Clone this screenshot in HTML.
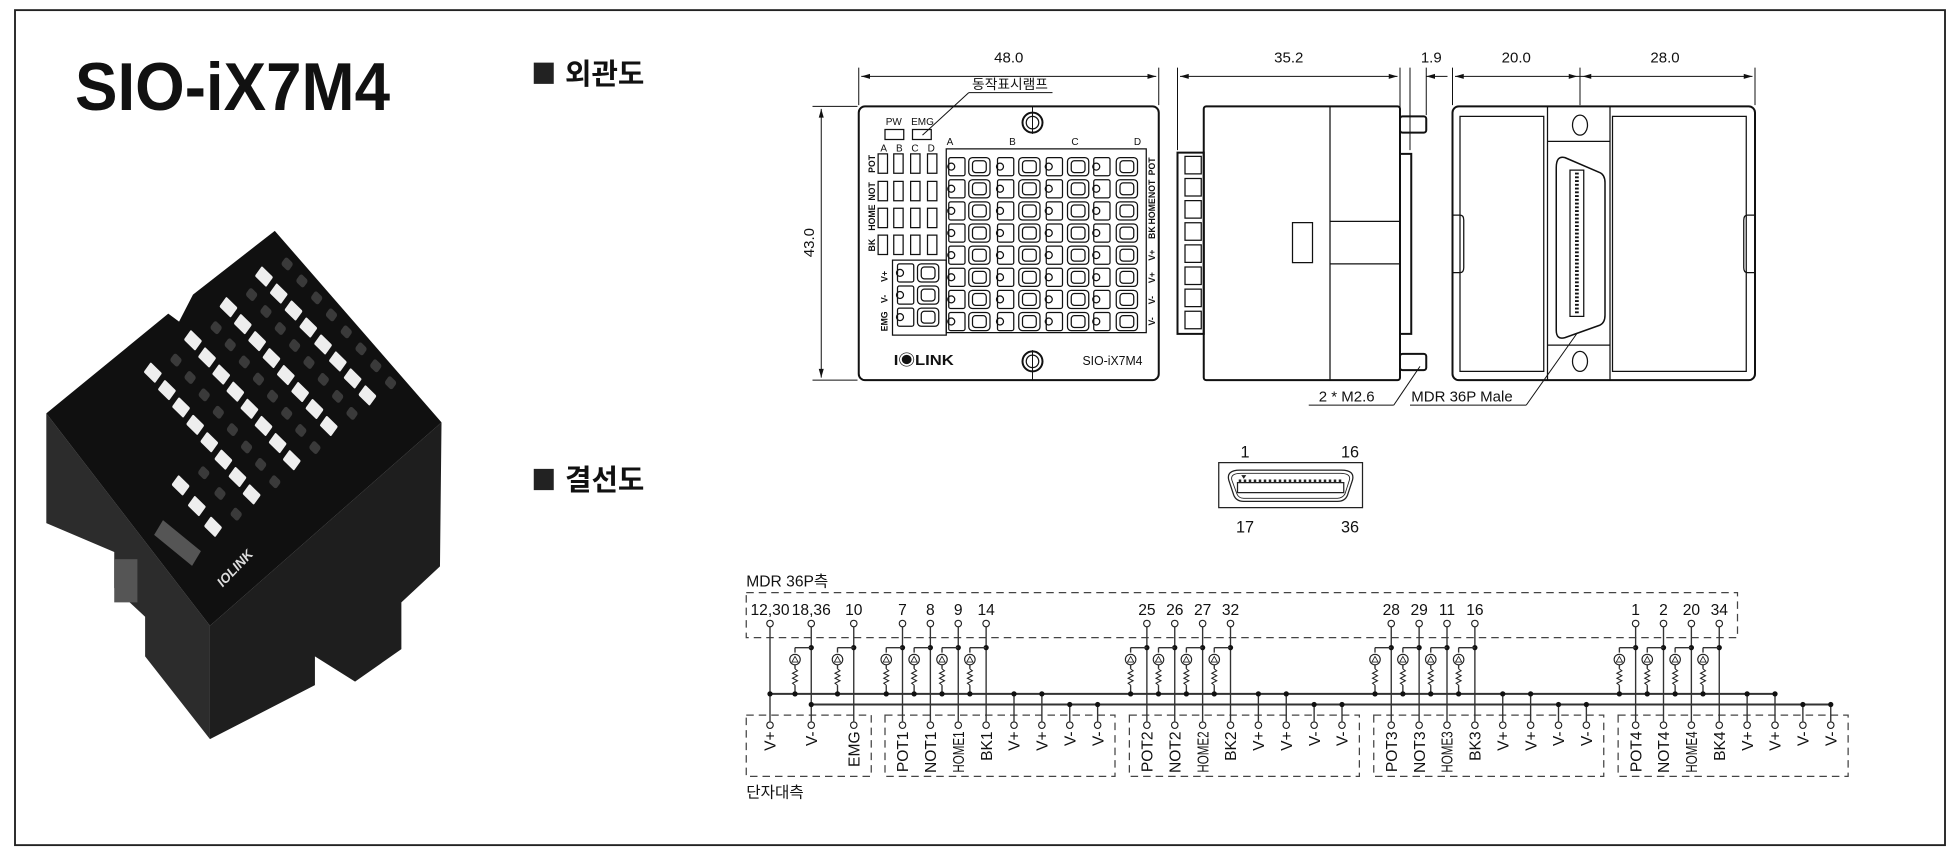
<!DOCTYPE html>
<html><head><meta charset="utf-8">
<style>
html,body{margin:0;padding:0;background:#fff;}
svg{display:block;}
text{font-family:"Liberation Sans","Noto Sans CJK KR",sans-serif;fill:#111;}
.n{font-family:"Liberation Sans Narrow","Liberation Sans","Noto Sans CJK KR",sans-serif;}
</style></head>
<body>
<svg id="s" width="1960" height="854" viewBox="0 0 1568 683" xmlns="http://www.w3.org/2000/svg">
<rect x="12" y="8" width="1544" height="668" fill="none" stroke="#222" stroke-width="1.5"/>
<text x="60" y="88" font-size="54" font-weight="bold" textLength="252" lengthAdjust="spacingAndGlyphs">SIO-iX7M4</text>
<rect x="427" y="50" width="16" height="17" fill="#222"/>
<text x="452" y="67" font-size="23" font-weight="bold">외관도</text>
<rect x="427" y="375" width="16" height="17" fill="#222"/>
<text x="452" y="392" font-size="23" font-weight="bold">결선도</text>

<!-- photo -->
<g transform="translate(0,165) scale(0.247,0.288)">
 <polygon points="150,575 680,1165 680,1480 470,1250 470,1140 370,1060 370,960 150,880" fill="#2c2c2c"/>
 <polygon points="680,1165 1430,600 1425,1000 1300,1100 1300,1230 1150,1320 1020,1250 1020,1330 680,1480" fill="#1e1e1e"/>
 <polygon points="150,575 545,298 580,320 625,245 890,68 1430,600 680,1165" fill="#101010"/>
 <rect x="370" y="980" width="75" height="120" fill="#555"/>
 <g id="pads"></g>
 <text x="0" y="0" font-size="40" fill="#ddd" style="fill:#ddd" transform="translate(720,1060) rotate(-42)" font-weight="bold">IOLINK</text>
</g>

<!-- front view -->
<g fill="none" stroke="#111" stroke-width="1.6">
 <rect x="687" y="85" width="240" height="219" rx="5"/>
 <line x1="687" y1="54" x2="687" y2="84" stroke-width="0.8"/>
 <line x1="927" y1="54" x2="927" y2="84" stroke-width="0.8"/>
 <line x1="689" y1="61" x2="925" y2="61" stroke-width="0.8"/>
 <line x1="650" y1="85" x2="686" y2="85" stroke-width="0.8"/>
 <line x1="650" y1="304" x2="686" y2="304" stroke-width="0.8"/>
 <line x1="657" y1="87" x2="657" y2="302" stroke-width="0.8"/>
 <rect x="708" y="103.5" width="15" height="8" stroke-width="1"/>
 <rect x="730" y="103.5" width="15" height="8" stroke-width="1"/>
 <polyline points="775,74 842,74" stroke-width="0.8"/>
 <polyline points="775,74 738,108" stroke-width="0.8"/>
 <rect x="757" y="119" width="160" height="147" stroke-width="1"/>
 <rect x="714" y="208" width="43" height="60" stroke-width="1"/>
 <circle cx="826" cy="98" r="8"/><circle cx="826" cy="98" r="5" stroke-width="1"/>
 <circle cx="826" cy="289" r="8"/><circle cx="826" cy="289" r="5" stroke-width="1"/>
 <line x1="826" y1="85" x2="826" y2="107" stroke-width="0.8"/>
 <line x1="826" y1="280" x2="826" y2="304" stroke-width="0.8"/>
 <g id="fgrid" stroke-width="1"></g>
</g>
<text x="807" y="50" font-size="12" text-anchor="middle" class="n">48.0</text>
<text x="0" y="0" font-size="12" text-anchor="middle" class="n" transform="translate(651,194) rotate(-90)">43.0</text>
<text x="808" y="71" font-size="11" text-anchor="middle">동작표시램프</text>
<text x="715" y="100" font-size="8" text-anchor="middle" class="n">PW</text>
<text x="738" y="100" font-size="8" text-anchor="middle" class="n">EMG</text>
<g font-size="8" text-anchor="middle" class="n">
<text x="707" y="121">A</text><text x="719.5" y="121">B</text><text x="732" y="121">C</text><text x="745" y="121">D</text>
<text x="760" y="116">A</text><text x="810" y="116">B</text><text x="860" y="116">C</text><text x="910" y="116">D</text>
</g>
<g font-size="7" text-anchor="middle" class="n" font-weight="bold">
<text transform="translate(700,131) rotate(-90)">POT</text>
<text transform="translate(700,153) rotate(-90)">NOT</text>
<text transform="translate(700,174) rotate(-90)">HOME</text>
<text transform="translate(700,196) rotate(-90)">BK</text>
<text transform="translate(710,221) rotate(-90)">V+</text>
<text transform="translate(710,239) rotate(-90)">V-</text>
<text transform="translate(710,257) rotate(-90)">EMG</text>
<text transform="translate(924,133) rotate(-90)">POT</text>
<text transform="translate(924,151) rotate(-90)">NOT</text>
<text transform="translate(924,169) rotate(-90)">HOME</text>
<text transform="translate(924,186) rotate(-90)">BK</text>
<text transform="translate(924,204) rotate(-90)">V+</text>
<text transform="translate(924,222) rotate(-90)">V+</text>
<text transform="translate(924,240) rotate(-90)">V-</text>
<text transform="translate(924,257) rotate(-90)">V-</text>
</g>
<text x="715" y="292" font-size="12" font-weight="bold" textLength="48" lengthAdjust="spacingAndGlyphs">I◉LINK</text>
<text x="866" y="292" font-size="10" class="n" textLength="48" lengthAdjust="spacingAndGlyphs">SIO-iX7M4</text>

<!-- side view -->
<g fill="none" stroke="#111" stroke-width="1.6">
 <rect x="963" y="85" width="157" height="219" rx="2"/>
 <line x1="1064" y1="85" x2="1064" y2="304" stroke-width="1"/>
 <line x1="1064" y1="177" x2="1120" y2="177" stroke-width="1"/>
 <line x1="1064" y1="211" x2="1120" y2="211" stroke-width="1"/>
 <rect x="1034" y="178" width="16" height="32" stroke-width="1"/>
 <rect x="942" y="122" width="21" height="145"/>
 <rect x="1120" y="123" width="9" height="144"/>
 <rect x="1120" y="93" width="21" height="13" rx="2"/>
 <rect x="1120" y="283" width="21" height="13" rx="2"/>
 <g id="sidet" stroke-width="1"></g>
 <!-- back view -->
 <rect x="1162" y="85" width="242" height="219" rx="5"/>
 <rect x="1168" y="93" width="67" height="204" stroke-width="1"/>
 <rect x="1290" y="93" width="107" height="204" stroke-width="1"/>
 <line x1="1238" y1="85" x2="1238" y2="304" stroke-width="1"/>
 <line x1="1288" y1="85" x2="1288" y2="304" stroke-width="1"/>
 <line x1="1238" y1="113" x2="1288" y2="113" stroke-width="1"/>
 <line x1="1238" y1="276" x2="1288" y2="276" stroke-width="1"/>
 <ellipse cx="1264" cy="100" rx="6" ry="8" stroke-width="1"/>
 <ellipse cx="1264" cy="289" rx="6" ry="8" stroke-width="1"/>
 <path d="M1252,126 L1280,138 Q1284,140 1284,146 L1284,252 Q1284,258 1280,260 L1252,270 Q1245,272 1245,264 L1245,134 Q1245,124 1252,126 Z" stroke-width="1.2"/>
 <rect x="1256" y="136" width="11" height="117" stroke-width="1"/>
 <line x1="1261.5" y1="138" x2="1261.5" y2="251" stroke-width="3" stroke-dasharray="1.5,1.5"/>
 <path d="M1162,172 h6 q3,0 3,4 v38 q0,4 -3,4 h-6" stroke-width="1"/>
 <path d="M1404,172 h-6 q-3,0 -3,4 v38 q0,4 3,4 h6" stroke-width="1"/>
 <!-- dims -->
 <g stroke-width="0.8">
 <line x1="942" y1="54" x2="942" y2="120"/><line x1="1120" y1="54" x2="1120" y2="90"/>
 <line x1="944" y1="61" x2="1118" y2="61"/>
 <line x1="1128" y1="54" x2="1128" y2="120"/><line x1="1141" y1="54" x2="1141" y2="92"/>
 <line x1="1141" y1="61" x2="1158" y2="61"/>
 <line x1="1162" y1="54" x2="1162" y2="84"/><line x1="1264" y1="54" x2="1264" y2="84"/><line x1="1404" y1="54" x2="1404" y2="84"/>
 <line x1="1164" y1="61" x2="1402" y2="61"/>
 <line x1="1047" y1="324" x2="1115" y2="324"/><line x1="1115" y1="324" x2="1136" y2="293"/>
 <line x1="1128" y1="324" x2="1221" y2="324"/><line x1="1221" y1="324" x2="1262" y2="266"/>
 </g>
</g>
<g fill="#111" id="arrows"></g>
<g font-size="12" text-anchor="middle" class="n">
<text x="1031" y="50">35.2</text><text x="1145" y="50">1.9</text><text x="1213" y="50">20.0</text><text x="1332" y="50">28.0</text>
</g>
<text x="1055" y="321" font-size="12" class="n">2 * M2.6</text>
<text x="1129" y="321" font-size="12" class="n">MDR 36P Male</text>

<!-- small connector -->
<g fill="none" stroke="#222" stroke-width="1">
 <rect x="975" y="370" width="115" height="36"/>
 <path d="M992,376 H1073 Q1084,376 1082,384 L1078,396 Q1076,401 1070,401 H995 Q989,401 987,396 L983,384 Q981,376 992,376 Z"/>
 <path d="M993,378.5 H1072 Q1081,378.5 1079.5,384 L1076,395 Q1074,398.5 1070,398.5 H995 Q991,398.5 989.5,395 L985.5,384 Q984,378.5 993,378.5 Z" stroke-width="0.7"/>
 <rect x="990" y="386" width="85" height="8"/>
 <line x1="991" y1="384.5" x2="1074" y2="384.5" stroke-dasharray="2,2" stroke-width="2"/>
</g>
<polygon points="993,380 997,380 995,383" fill="#222"/>
<g font-size="13" text-anchor="middle" class="n">
<text x="996" y="366">1</text><text x="1080" y="366">16</text><text x="996" y="426">17</text><text x="1080" y="426">36</text>
</g>

<!-- wiring -->
<text x="597" y="469" font-size="12.5" class="n">MDR 36P측</text>
<text x="597" y="638" font-size="12.5" class="n">단자대측</text>
<g fill="none" stroke="#444" stroke-width="1" stroke-dasharray="6,4">
 <rect x="597" y="474" width="793" height="36"/>
 <rect x="597" y="572" width="100" height="49"/>
 <rect x="708" y="572" width="184" height="49"/>
 <rect x="903.5" y="572" width="184" height="49"/>
 <rect x="1099" y="572" width="184" height="49"/>
 <rect x="1294.5" y="572" width="184" height="49"/>
</g>
<g id="wire"></g>
<g font-size="12.5" text-anchor="middle" class="n">
<text x="616" y="492">12,30</text><text x="649" y="492">18,36</text><text x="683" y="492">10</text>
<text x="722" y="492">7</text><text x="744.3" y="492">8</text><text x="766.6" y="492">9</text><text x="788.9" y="492">14</text>
<text x="917.5" y="492">25</text><text x="939.8" y="492">26</text><text x="962.1" y="492">27</text><text x="984.4" y="492">32</text>
<text x="1113" y="492">28</text><text x="1135.3" y="492">29</text><text x="1157.6" y="492">11</text><text x="1179.9" y="492">16</text>
<text x="1308.5" y="492">1</text><text x="1330.8" y="492">2</text><text x="1353.1" y="492">20</text><text x="1375.4" y="492">34</text>
</g>
<g font-size="12.5" text-anchor="end" class="n">
<text transform="translate(620.5,585) rotate(-90)">V+</text>
<text transform="translate(653.5,585) rotate(-90)">V-</text>
<text transform="translate(687.5,585) rotate(-90)">EMG</text>
<text transform="translate(726.5,585) rotate(-90)">POT1</text>
<text transform="translate(748.8,585) rotate(-90)">NOT1</text>
<text transform="translate(771.1,585) rotate(-90)" textLength="33" lengthAdjust="spacingAndGlyphs">HOME1</text>
<text transform="translate(793.4,585) rotate(-90)">BK1</text>
<text transform="translate(815.7,585) rotate(-90)">V+</text>
<text transform="translate(838,585) rotate(-90)">V+</text>
<text transform="translate(860.3,585) rotate(-90)">V-</text>
<text transform="translate(882.6,585) rotate(-90)">V-</text>
<text transform="translate(922,585) rotate(-90)">POT2</text>
<text transform="translate(944.3,585) rotate(-90)">NOT2</text>
<text transform="translate(966.6,585) rotate(-90)" textLength="33" lengthAdjust="spacingAndGlyphs">HOME2</text>
<text transform="translate(988.9,585) rotate(-90)">BK2</text>
<text transform="translate(1011.2,585) rotate(-90)">V+</text>
<text transform="translate(1033.5,585) rotate(-90)">V+</text>
<text transform="translate(1055.8,585) rotate(-90)">V-</text>
<text transform="translate(1078.1,585) rotate(-90)">V-</text>
<text transform="translate(1117.5,585) rotate(-90)">POT3</text>
<text transform="translate(1139.8,585) rotate(-90)">NOT3</text>
<text transform="translate(1162.1,585) rotate(-90)" textLength="33" lengthAdjust="spacingAndGlyphs">HOME3</text>
<text transform="translate(1184.4,585) rotate(-90)">BK3</text>
<text transform="translate(1206.7,585) rotate(-90)">V+</text>
<text transform="translate(1229,585) rotate(-90)">V+</text>
<text transform="translate(1251.3,585) rotate(-90)">V-</text>
<text transform="translate(1273.6,585) rotate(-90)">V-</text>
<text transform="translate(1313,585) rotate(-90)">POT4</text>
<text transform="translate(1335.3,585) rotate(-90)">NOT4</text>
<text transform="translate(1357.6,585) rotate(-90)" textLength="33" lengthAdjust="spacingAndGlyphs">HOME4</text>
<text transform="translate(1379.9,585) rotate(-90)">BK4</text>
<text transform="translate(1402.2,585) rotate(-90)">V+</text>
<text transform="translate(1424.5,585) rotate(-90)">V+</text>
<text transform="translate(1446.8,585) rotate(-90)">V-</text>
<text transform="translate(1469.1,585) rotate(-90)">V-</text>
</g>
</svg>
<script>
var NS="http://www.w3.org/2000/svg";
function el(p,t,a){var e=document.createElementNS(NS,t);for(var k in a)e.setAttribute(k,a[k]);p.appendChild(e);return e;}
var fg=document.getElementById('fgrid');
[702.5,715,728.5,742].forEach(function(x){[123,145,166.5,188].forEach(function(y){el(fg,'rect',{x:x,y:y,width:7.5,height:15.5});});});
var cols=[[759,775],[798,815],[837,854],[875,893]];
for(var i=0;i<8;i++){var y=126+17.7*i;cols.forEach(function(c){
 el(fg,'rect',{x:c[0],y:y,width:13,height:14.5,rx:1.5});el(fg,'circle',{cx:c[0]+2,cy:y+7.2,r:2.8});
 el(fg,'rect',{x:c[1],y:y,width:17,height:14.5,rx:3});el(fg,'rect',{x:c[1]+3,y:y+2.5,width:11,height:9.5,rx:2.5});});}
for(var i=0;i<3;i++){var y=211+17.7*i;el(fg,'rect',{x:718,y:y,width:13,height:14.5,rx:1.5});el(fg,'circle',{cx:720,cy:y+7.2,r:2.8});
 el(fg,'rect',{x:734,y:y,width:17,height:14.5,rx:3});el(fg,'rect',{x:737,y:y+2.5,width:11,height:9.5,rx:2.5});}
var st=document.getElementById('sidet');
for(var i=0;i<8;i++){el(st,'rect',{x:948,y:125+17.7*i,width:13,height:14});}
var ar=document.getElementById('arrows');
function arr(x,y,d){el(ar,'polygon',{points:x+','+y+' '+(x+7*d)+','+(y-2)+' '+(x+7*d)+','+(y+2)});}
arr(689,61,1);arr(925,61,-1);arr(944,61,1);arr(1118,61,-1);arr(1141,61,1);arr(1164,61,1);arr(1262,61,-1);arr(1266,61,1);arr(1402,61,-1);
el(ar,'polygon',{points:'657,87 655,94 659,94'});el(ar,'polygon',{points:'657,302 655,295 659,295'});
var pd=document.getElementById('pads');
function row(x1,y1,x2,y2,n){for(var i=0;i<n;i++){var x=x1+(x2-x1)*i/(n-1),y=y1+(y2-y1)*i/(n-1);
 el(pd,'rect',{x:-24,y:-18,width:48,height:36,rx:4,fill:'#eeeeee',transform:'translate('+x+','+y+') rotate(40)'});
 el(pd,'rect',{x:-16,y:-14,width:32,height:28,rx:8,fill:'#3a3a3a',transform:'translate('+(x+75)+','+(y-35)+') rotate(40)'});}}
row(495,462,815,800,8);row(625,372,945,705,8);row(740,280,1065,610,8);row(855,195,1190,525,8);row(585,775,690,890,3);
el(pd,'rect',{x:500,y:910,width:150,height:50,fill:'#555',transform:'rotate(35 575 935)'});
var w=document.getElementById('wire');
function L(x1,y1,x2,y2,sw){el(w,'line',{x1:x1,y1:y1,x2:x2,y2:y2,stroke:'#333','stroke-width':sw||1.1});}
function dot(x,y){el(w,'circle',{cx:x,cy:y,r:2.1,fill:'#111'});}
function oc(x,y){el(w,'circle',{cx:x,cy:y,r:2.6,fill:'#fff',stroke:'#222','stroke-width':0.9});}
var BP=555,BM=563.5;
L(616,BP,1420.5,BP,1.6);L(649,BM,1465,BM,1.6);
function lamp(x,lx){
 dot(x,518);L(x,518,lx,518);L(lx,518,lx,522);
 el(w,'circle',{cx:lx,cy:527.5,r:4.2,fill:'#fff',stroke:'#222','stroke-width':0.9});
 el(w,'polygon',{points:(lx-2.5)+',529.5 '+(lx+2.5)+',529.5 '+lx+',525',fill:'none',stroke:'#222','stroke-width':0.7});
 L(lx,531.7,lx,535);
 el(w,'polyline',{points:lx+',535 '+(lx+2)+',536.5 '+(lx-2)+',538.5 '+(lx+2)+',540.5 '+(lx-2)+',542.5 '+(lx+2)+',544.5 '+(lx-2)+',546.5 '+lx+',548',fill:'none',stroke:'#222','stroke-width':0.8});
 L(lx,548,lx,BP);dot(lx,BP);}
L(616,501,616,577);dot(616,BP);oc(616,498.7);oc(616,580);
L(649,501,649,577);dot(649,BM);lamp(649,636);oc(649,498.7);oc(649,580);
L(683,501,683,577);lamp(683,670);oc(683,498.7);oc(683,580);
for(var g=0;g<4;g++){var b=722+195.5*g;
 for(var k=0;k<4;k++){var x=b+22.3*k;L(x,501,x,577);lamp(x,x-13);oc(x,498.7);oc(x,580);}
 for(var k=4;k<8;k++){var x=b+22.3*k;var y=k<6?BP:BM;L(x,y,x,577);dot(x,y);oc(x,580);}
}
</script>
</body></html>
